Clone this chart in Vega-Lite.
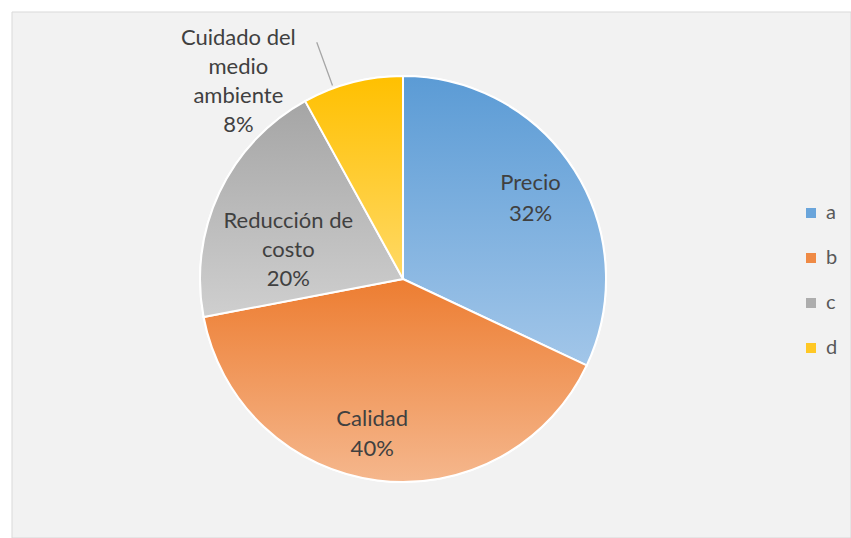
{
  "$schema": "https://vega.github.io/schema/vega-lite/v6.json",
  "width": 839,
  "height": 526,
  "autosize": "none",
  "padding": {"left": 12, "top": 12, "right": 0, "bottom": 0},
  "background": "white",
  "config": {
    "view": {"stroke": null},
    "font": "Lato"
  },
  "layer": [
    {
      "data": {"values": [{"frame": "chart area"}]},
      "mark": {"type": "rect", "fill": "#f2f2f2", "stroke": "#d9d9d9", "strokeWidth": 1},
      "encoding": {
        "x": {"value": 0}, "x2": {"value": "width"},
        "y": {"value": 0}, "y2": {"value": "height"}
      }
    },
    {
      "data": {
        "values": [
          {"cat": "a", "value": 32, "label": "Precio\n32%"},
          {"cat": "b", "value": 40, "label": "Calidad\n40%"},
          {"cat": "c", "value": 20, "label": "Reducción de\ncosto\n20%"},
          {"cat": "d", "value": 8, "label": "Cuidado del\nmedio\nambiente\n8%"}
        ]
      },
      "encoding": {
        "theta": {"field": "value", "type": "quantitative", "stack": true},
        "order": {"field": "cat", "type": "nominal"}
      },
      "layer": [
        {
          "mark": {"type": "arc", "radius": 203, "xOffset": -28.5, "yOffset": 4, "stroke": "white", "strokeWidth": 2},
          "encoding": {
            "color": {
              "field": "cat", "type": "nominal",
              "scale": {"domain": ["a", "b", "c", "d"], "range": ["#6aa5db", "#ef8a45", "#adadad", "#ffc825"]},
              "legend": {
                "title": null, "orient": "none", "legendX": 789, "legendY": 191,
                "symbolType": "square", "symbolSize": 100, "symbolStrokeWidth": 0,
                "labelFontSize": 20, "labelColor": "#595959", "labelFont": "Lato",
                "rowPadding": 25, "padding": 0, "labelOffset": 5
              }
            }
          }
        },
        {
          "mark": {"type": "arc", "radius": 203, "xOffset": -28.5, "yOffset": 4, "stroke": "white", "strokeWidth": 2},
          "encoding": {
            "fill": {
              "condition": [
                {"test": "datum.cat === 'a'", "value": {"gradient": "linear", "x1": 0, "y1": 0, "x2": 0, "y2": 1, "stops": [{"offset": 0, "color": "#5b9bd5"}, {"offset": 1, "color": "#a2c6e9"}]}},
                {"test": "datum.cat === 'b'", "value": {"gradient": "linear", "x1": 0, "y1": 0, "x2": 0, "y2": 1, "stops": [{"offset": 0, "color": "#ed7d31"}, {"offset": 1, "color": "#f5b78d"}]}},
                {"test": "datum.cat === 'c'", "value": {"gradient": "linear", "x1": 0, "y1": 0, "x2": 0, "y2": 1, "stops": [{"offset": 0, "color": "#a5a5a5"}, {"offset": 1, "color": "#cfcfcf"}]}}
              ],
              "value": {"gradient": "linear", "x1": 0, "y1": 0, "x2": 0, "y2": 1, "stops": [{"offset": 0, "color": "#ffc000"}, {"offset": 1, "color": "#ffd966"}]}
            }
          }
        },
        {
          "mark": {"type": "arc", "radius": 252, "radius2": 206, "padAngle": 1.2, "thetaOffset": -0.098, "xOffset": -28.5, "yOffset": 4, "fill": null, "stroke": "#a6a6a6", "strokeWidth": 1.3},
          "encoding": {
            "strokeOpacity": {"condition": {"test": "datum.cat === 'd'", "value": 1}, "value": 0}
          }
        },
        {
          "mark": {"type": "text", "radius": 151, "dy": -15, "xOffset": -28.5, "yOffset": 4, "fontSize": 22, "color": "#404040", "lineBreak": "\n", "lineHeight": 31, "align": "center", "baseline": "middle"},
          "encoding": {"text": {"condition": {"test": "datum.cat === 'a'", "field": "label"}, "value": ""}}
        },
        {
          "mark": {"type": "text", "radius": 158, "dx": -11, "dy": -17, "xOffset": -28.5, "yOffset": 4, "fontSize": 22, "color": "#404040", "lineBreak": "\n", "lineHeight": 30, "align": "center", "baseline": "middle"},
          "encoding": {"text": {"condition": {"test": "datum.cat === 'b'", "field": "label"}, "value": ""}}
        },
        {
          "mark": {"type": "text", "radius": 119, "dx": -7, "dy": -7, "xOffset": -28.5, "yOffset": 4, "fontSize": 22, "color": "#404040", "lineBreak": "\n", "lineHeight": 29, "align": "center", "baseline": "middle"},
          "encoding": {"text": {"condition": {"test": "datum.cat === 'c'", "field": "label"}, "value": ""}}
        },
        {
          "mark": {"type": "text", "radius": 256, "dx": -101, "dy": 7, "xOffset": -28.5, "yOffset": 4, "fontSize": 22, "color": "#404040", "lineBreak": "\n", "lineHeight": 29, "align": "center", "baseline": "middle"},
          "encoding": {"text": {"condition": {"test": "datum.cat === 'd'", "field": "label"}, "value": ""}}
        }
      ]
    }
  ]
}
